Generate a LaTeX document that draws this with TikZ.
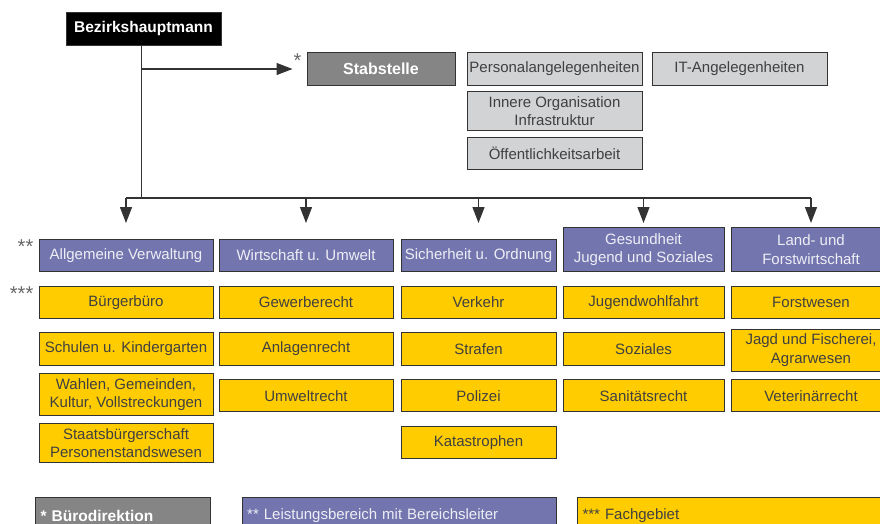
\documentclass[tikz,border=0pt]{standalone}
\usepackage{fontspec}
\setmainfont{Liberation Sans}
\usepackage{xcolor}
\usetikzlibrary{positioning,arrows.meta}
\definecolor{bhblau}{HTML}{7375AF}
\definecolor{bhgelb}{HTML}{FFCC00}
\definecolor{bhgrau}{HTML}{D1D3D4}
\definecolor{bhstab}{HTML}{858585}
\definecolor{bhlinie}{HTML}{333333}

\begin{document}
\begin{tikzpicture}[x=1pt, y=-1pt, box/.style={draw=bhlinie, line width=1pt, align=center, inner xsep=2pt, inner ysep=5pt, minimum height=32.4pt, font=\fontsize{15}{18.3}\selectfont}, chef/.style={box, fill=black, text=white, font=\fontsize{15.5}{18}\selectfont\bfseries, minimum width=155pt, minimum height=33pt}, stab/.style={box, fill=bhstab, text=white, font=\fontsize{16}{18}\selectfont\bfseries, minimum width=148pt}, staff/.style={box, fill=bhgrau, text=black!75, minimum width=175pt}, bereich/.style={box, fill=bhblau, text=white!88!bhblau}, fach/.style={box, fill=bhgelb, text=black!75}, legende/.style={box, anchor=north west, align=left, inner xsep=5pt, minimum height=36pt}, stern/.style={anchor=north east, inner sep=1pt, text=black!60, font=\fontsize{20}{22}\selectfont}, sp1/.style={minimum width=174pt}, sp2/.style={minimum width=174pt}, sp3/.style={minimum width=155pt}, sp4/.style={minimum width=161pt}, sp5/.style={minimum width=160pt}, verbindung/.style={draw=bhlinie, line width=1.3pt}, rel/.style={verbindung, -{Triangle[length=16pt, width=12pt]}}]
\useasboundingbox (0,0) rectangle (880,523);
\clip (0,0) rectangle (880,523);
\node[chef] (bh) at (143.5,28.5) {Bezirkshauptmann};
\node[stab] (stab) at (381,69) {Stabstelle};
\node[staff, right=11pt of stab] (personal) {Personalangelegenheiten};
\node[staff, right=9pt of personal] (it) {IT-Angelegenheiten};
\node[staff, below=5pt of personal] (innere) {Innere Organisation\\Infrastruktur};
\node[staff, below=6pt of innere] (oeff) {Öffentlichkeitsarbeit};
\node[stern, xshift=-4pt] (s1) at (stab.north west) {*};
\node[bereich, sp1] (allg) at (126,255.5) {Allgemeine Verwaltung};
\node[bereich, sp2] (wirt) at (306,255.5) {Wirtschaft u. Umwelt};
\node[bereich, sp3] (sich) at (478.5,255.5) {Sicherheit u. Ordnung};
\node[bereich, sp4, minimum height=44pt] (ges) at (643.5,249.7) {Gesundheit\\Jugend und Soziales};
\node[bereich, sp5, minimum height=44pt] (land) at (811,249.7) {Land- und\\Forstwirtschaft};
\node[stern, xshift=-4pt] (s2) at (allg.north west) {**};
\node[fach, sp1] (buerger) at (126,302.2) {Bürgerbüro};
\node[fach, sp1] (schulen) at (126,348.8) {Schulen u. Kindergarten};
\node[fach, sp1] (wahlen) at (126,394.3) {Wahlen, Gemeinden,\\Kultur, Vollstreckungen};
\node[fach, sp1] (staat) at (126,443.2) {Staatsbürgerschaft\\Personenstandswesen};
\node[stern, xshift=-4pt] (s3) at (buerger.north west) {***};
\node[fach, sp2] (gewerbe) at (306,302.2) {Gewerberecht};
\node[fach, sp2] (anlagen) at (306,348.8) {Anlagenrecht};
\node[fach, sp2] (umwelt) at (306,395.7) {Umweltrecht};
\node[fach, sp3] (verkehr) at (478.5,302.2) {Verkehr};
\node[fach, sp3] (strafen) at (478.5,348.8) {Strafen};
\node[fach, sp3] (polizei) at (478.5,395.7) {Polizei};
\node[fach, sp3] (kat) at (478.5,442.3) {Katastrophen};
\node[fach, sp4] (jugend) at (643.5,302.2) {Jugendwohlfahrt};
\node[fach, sp4] (soziales) at (643.5,348.8) {Soziales};
\node[fach, sp4] (sanitaet) at (643.5,395.7) {Sanitätsrecht};
\node[fach, sp5] (forst) at (811,302.2) {Forstwesen};
\node[fach, sp5] (jagd) at (811,350.2) {Jagd und Fischerei,\\Agrarwesen};
\node[fach, sp5] (vet) at (811,395.7) {Veterinärrecht};
\node[legende, fill=bhstab, text=white, text width=165pt, font=\fontsize{15.5}{18}\selectfont\bfseries] (l1) at (35,497.3) {* Bürodirektion};
\node[legende, fill=bhblau, text=white!88!bhblau, text width=304pt] (l2) at (241.7,497.3) {** Leistungsbereich mit Bereichsleiter};
\node[legende, fill=bhgelb, text=black!75, text width=330pt] (l3) at (577,497.3) {*** Fachgebiet};
\coordinate (knick) at (0,198);
\coordinate (spitze) at (0,223);
\draw[verbindung] ([xshift=-2pt]bh.south) -- ([xshift=-2pt]bh.south |- knick);
\draw[rel, shorten >=14pt] ([xshift=-2pt]bh.south |- stab.west) -- (stab.west);
\draw[verbindung] (allg.north |- knick) -- (land.north |- knick);
\foreach \n in {allg,wirt,sich,ges,land}
  \draw[rel] (\n.north |- knick) -- (\n.north |- spitze);
\end{tikzpicture}
\end{document}
